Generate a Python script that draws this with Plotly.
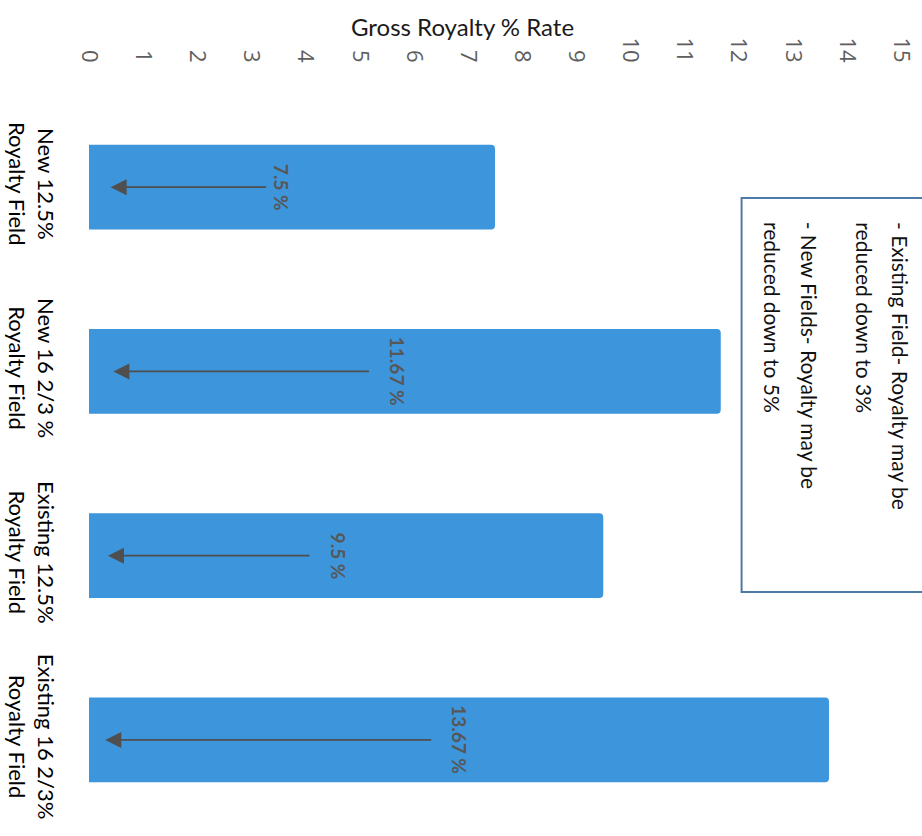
import plotly.graph_objects as go

categories = [
    "New 12.5%<br>Royalty Field",
    "New 16 2/3 %<br>Royalty Field",
    "Existing 12.5%<br>Royalty Field",
    "Existing 16 2/3%<br>Royalty Field",
]
royalty_rates = [7.5, 11.67, 9.5, 13.67]
value_labels = ["7.5 %", "11.67 %", "9.5 %", "13.67 %"]
arrow_tail = [3.3, 5.2, 4.1, 6.35]
arrow_tip = [0.4, 0.45, 0.35, 0.3]
label_pos = [3.57, 5.7, 4.6, 6.83]
tick_values = list(range(0, 16))
note_lines = [
    "- Existing Field- Royalty may be",
    "reduced down to 3%",
    "- New Fields- Royalty may be",
    "reduced down to 5%",
]
axis_title = "Gross Royalty % Rate"

W, H = 922, 836
ML, MR, MT, MB = 88, 19, 95, 4
PW, PH = W - ML - MR, H - MT - MB


def px_to_paper_x(px):
    return (px - ML) / PW


def px_to_paper_y(py):
    return (H - MB - py) / PH


fig = go.Figure()
fig.add_trace(go.Bar(
    x=royalty_rates,
    y=categories,
    orientation="h",
    width=0.46,
    marker=dict(color="#3d95dc", line=dict(width=0), cornerradius=4),
    hoverinfo="skip",
))

annotations = []
for cat, tail, tip, lp, lab in zip(categories, arrow_tail, arrow_tip, label_pos, value_labels):
    annotations.append(dict(
        x=tip, y=cat, ax=tail, ay=cat, xref="x", yref="y", axref="x", ayref="y",
        text="", showarrow=True, arrowhead=2, arrowsize=2.0, arrowwidth=1.6,
        arrowcolor="#4f4f4f",
    ))
    annotations.append(dict(
        x=lp, y=cat, xref="x", yref="y", text=lab, showarrow=False,
        textangle=90, xanchor="center", yanchor="middle",
        font=dict(family="Lato", size=19, color="#575757", weight="bold"),
    ))

annotations.append(dict(
    x=px_to_paper_x(463), y=px_to_paper_y(27), xref="paper", yref="paper",
    text=axis_title, showarrow=False, xanchor="center", yanchor="middle",
    font=dict(family="Lato", size=24, color="#1a1a1a"),
))

note_x = [903, 866, 812, 774]
for line, nx in zip(note_lines, note_x):
    annotations.append(dict(
        x=px_to_paper_x(nx), y=px_to_paper_y(220), xref="paper", yref="paper",
        text=line, showarrow=False, textangle=90, xanchor="center", yanchor="top",
        font=dict(family="Lato", size=21, color="#111111"),
    ))

fig.add_shape(
    type="rect", xref="paper", yref="paper",
    x0=px_to_paper_x(743), x1=px_to_paper_x(940),
    y0=px_to_paper_y(592), y1=px_to_paper_y(198),
    line=dict(color="#4d7aa6", width=2), fillcolor="rgba(0,0,0,0)",
)

fig.update_layout(
    width=W, height=H,
    margin=dict(l=ML, r=MR, t=MT, b=MB),
    paper_bgcolor="white", plot_bgcolor="white",
    showlegend=False,
    bargap=0.54,
    annotations=annotations,
    xaxis=dict(
        side="top", range=[0, 15], tickvals=tick_values,
        tickangle=90, showgrid=False, zeroline=False, showline=False,
        ticks="", ticklabelstandoff=28,
        tickfont=dict(family="Open Sans", size=22, color="#5e5e5e"),
    ),
    yaxis=dict(
        autorange="reversed", tickangle=90, showgrid=False, zeroline=False,
        showline=False, ticks="", ticklabelstandoff=28,
        tickfont=dict(family="Lato", size=22, color="#000000"),
    ),
)

fig.write_html("out.html")
